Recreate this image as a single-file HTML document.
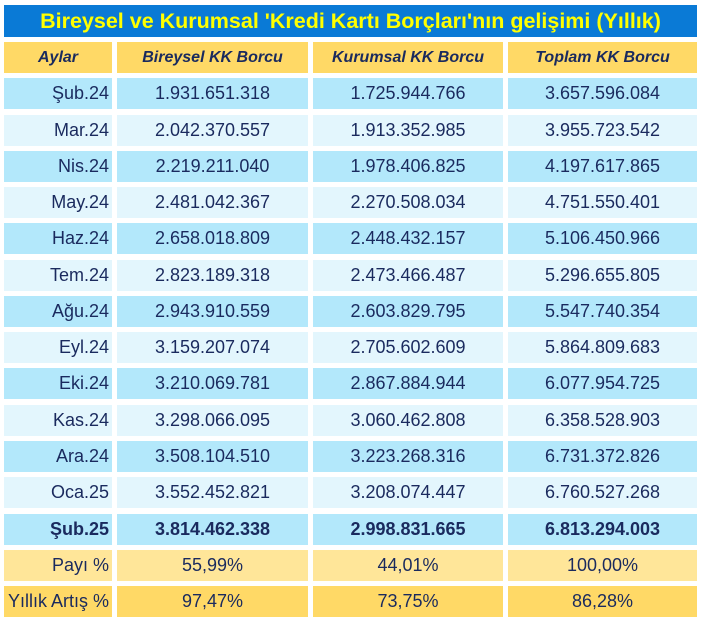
<!DOCTYPE html>
<html><head><meta charset="utf-8"><style>
body{margin:0;width:703px;height:623px;background:#fff;position:relative;overflow:hidden;font-family:"Liberation Sans",sans-serif;color:#1a2a5e}
.t{position:absolute;left:4px;top:5px;width:693px;height:32px;background:#0a7ad6;color:#ffff00;font-weight:bold;font-size:21.5px;line-height:32px;text-align:center}
.c{position:absolute;height:31px;line-height:31px;font-size:18px;white-space:nowrap;box-sizing:border-box}
.h{font-weight:bold;font-style:italic;font-size:16px;text-align:center;background:#ffd966}
.a{background:#b3e8fb}.b{background:#e3f6fd}.p{background:#ffe699}.y{background:#ffd966}
.bold{font-weight:bold}
</style></head><body>
<div class="t">Bireysel ve Kurumsal 'Kredi Kartı Borçları'nın gelişimi (Yıllık)</div>
<div id="g"></div>
<script>
var rows=[
["h","Aylar","Bireysel KK Borcu","Kurumsal KK Borcu","Toplam KK Borcu"],
["a","Şub.24","1.931.651.318","1.725.944.766","3.657.596.084"],
["b","Mar.24","2.042.370.557","1.913.352.985","3.955.723.542"],
["a","Nis.24","2.219.211.040","1.978.406.825","4.197.617.865"],
["b","May.24","2.481.042.367","2.270.508.034","4.751.550.401"],
["a","Haz.24","2.658.018.809","2.448.432.157","5.106.450.966"],
["b","Tem.24","2.823.189.318","2.473.466.487","5.296.655.805"],
["a","Ağu.24","2.943.910.559","2.603.829.795","5.547.740.354"],
["b","Eyl.24","3.159.207.074","2.705.602.609","5.864.809.683"],
["a","Eki.24","3.210.069.781","2.867.884.944","6.077.954.725"],
["b","Kas.24","3.298.066.095","3.060.462.808","6.358.528.903"],
["a","Ara.24","3.508.104.510","3.223.268.316","6.731.372.826"],
["b","Oca.25","3.552.452.821","3.208.074.447","6.760.527.268"],
["a bold","Şub.25","3.814.462.338","2.998.831.665","6.813.294.003"],
["p","Payı %","55,99%","44,01%","100,00%"],
["y","Yıllık Artış %","97,47%","73,75%","86,28%"]];
var cols=[[4,108],[117,191],[313,190],[508,189]];
var h="";
rows.forEach(function(r,k){
 var top=Math.round(42+k*36.27);
 for(var j=0;j<4;j++){
  var al=(r[0]=="h"||j>0)?"text-align:center;":"text-align:right;padding-right:3px;";
  h+='<div class="c '+r[0]+'" style="left:'+cols[j][0]+'px;width:'+cols[j][1]+'px;top:'+top+'px;'+al+'">'+r[j+1]+'</div>';
 }
});
document.getElementById("g").innerHTML=h;
</script>
</body></html>
